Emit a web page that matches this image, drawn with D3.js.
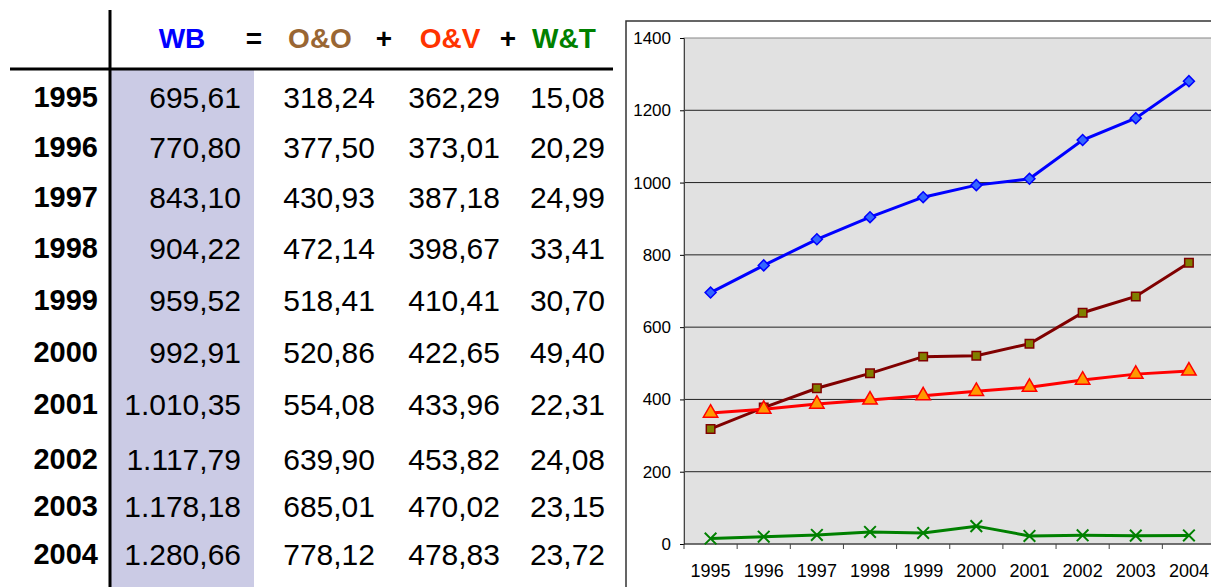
<!DOCTYPE html>
<html>
<head>
<meta charset="utf-8">
<script src="https://cdn.jsdelivr.net/npm/d3@7"></script>
<style>
  body { margin: 0; background: #fff; }
  svg { display: block; font-family: "Liberation Sans", Arial, sans-serif; }
</style>
</head>
<body>
<svg id="chart" width="1211" height="587"></svg>
<script>
const years = ["1995", "1996", "1997", "1998", "1999", "2000", "2001", "2002", "2003", "2004"];
const wb  = [695.61, 770.80, 843.10, 904.22, 959.52, 992.91, 1010.35, 1117.79, 1178.18, 1280.66];
const oo  = [318.24, 377.50, 430.93, 472.14, 518.41, 520.86, 554.08, 639.90, 685.01, 778.12];
const ov  = [362.29, 373.01, 387.18, 398.67, 410.41, 422.65, 433.96, 453.82, 470.02, 478.83];
const wt  = [15.08, 20.29, 24.99, 33.41, 30.70, 49.40, 22.31, 24.08, 23.15, 23.72];
const yTicks = [0, 200, 400, 600, 800, 1000, 1200, 1400];

const svg = d3.select("#chart");

// number format like 1.280,66
const fmt = d3.formatLocale({decimal: ",", thousands: ".", grouping: [3], currency: ["", ""]}).format(",.2f");

// ---- table on the left ----
const table = svg.append("g").attr("class", "table");
// row centers (rows are not perfectly evenly spaced in the original)
const rowY = [97, 147, 197, 248, 300, 352, 404, 459, 506, 554];

table.append("rect")
  .attr("x", 111).attr("y", 70)
  .attr("width", 143).attr("height", 517)
  .attr("fill", "#cbcbe5");

table.append("line")
  .attr("x1", 110).attr("x2", 110).attr("y1", 10).attr("y2", 587)
  .attr("stroke", "#000").attr("stroke-width", 3);
table.append("line")
  .attr("x1", 10).attr("x2", 613).attr("y1", 69).attr("y2", 69)
  .attr("stroke", "#000").attr("stroke-width", 3);

const header = [
  {t: "WB", x: 182, c: "#0000ff"},
  {t: "=", x: 254, c: "#000"},
  {t: "O&O", x: 320, c: "#996633"},
  {t: "+", x: 384, c: "#000"},
  {t: "O&V", x: 450, c: "#ff3300"},
  {t: "+", x: 508, c: "#000"},
  {t: "W&T", x: 564, c: "#008000"}
];
table.selectAll(".hdr").data(header).enter().append("text")
  .attr("class", "hdr")
  .attr("x", d => d.x).attr("y", 38)
  .attr("dy", "0.36em")
  .attr("text-anchor", "middle")
  .attr("font-size", 28).attr("font-weight", "bold")
  .attr("fill", d => d.c)
  .text(d => d.t);

table.selectAll(".yr").data(years).enter().append("text")
  .attr("class", "yr")
  .attr("x", 98).attr("y", (d, i) => rowY[i])
  .attr("dy", "0.36em")
  .attr("text-anchor", "end")
  .attr("font-size", 29).attr("font-weight", "bold")
  .text(d => d);

const cols = [{v: wb, x: 241}, {v: oo, x: 375}, {v: ov, x: 500}, {v: wt, x: 605}];
cols.forEach(col => {
  table.append("g").selectAll("text").data(col.v).enter().append("text")
    .attr("x", col.x).attr("y", (d, i) => rowY[i])
    .attr("dy", "0.36em")
    .attr("text-anchor", "end")
    .attr("font-size", 30)
    .attr("fill", "#000")
    .text(d => fmt(d));
});

// ---- line chart on the right ----
const plot = {left: 684, right: 1215.5, top: 38, bottom: 544};

svg.append("rect")
  .attr("x", 626).attr("y", 21)
  .attr("width", 600).attr("height", 600)
  .attr("fill", "#fff").attr("stroke", "#333").attr("stroke-width", 1.5);

const x = d3.scaleBand().domain(years).range([plot.left, plot.right]);
const y = d3.scaleLinear().domain([0, 1400]).range([plot.bottom, plot.top]);

svg.append("rect")
  .attr("x", plot.left).attr("y", plot.top)
  .attr("width", plot.right - plot.left).attr("height", plot.bottom - plot.top)
  .attr("fill", "#e1e1e1").attr("stroke", "#888").attr("stroke-width", 1);

// gridlines
svg.append("g").selectAll("line").data(yTicks.slice(1, -1)).enter().append("line")
  .attr("x1", plot.left).attr("x2", plot.right)
  .attr("y1", d => y(d)).attr("y2", d => y(d))
  .attr("stroke", "#222").attr("stroke-width", 1);

// y axis
const yAxis = svg.append("g")
  .attr("transform", `translate(${plot.left},0)`)
  .call(d3.axisLeft(y).tickValues(yTicks).tickSize(4).tickPadding(9).tickFormat(d3.format("d")));
yAxis.attr("font-size", 17).attr("font-family", "Liberation Sans, Arial, sans-serif");
yAxis.select(".domain").attr("stroke", "#444");
yAxis.selectAll("text").attr("fill", "#000");

// x axis: ticks between categories
const xAxis = svg.append("g").attr("transform", `translate(0,${plot.bottom})`);
xAxis.append("line")
  .attr("x1", plot.left).attr("x2", plot.right)
  .attr("stroke", "#222");
xAxis.selectAll(".tk").data(years).enter().append("line")
  .attr("x1", d => x(d)).attr("x2", d => x(d))
  .attr("y1", 0).attr("y2", 5)
  .attr("stroke", "#444");
xAxis.selectAll("text").data(years).enter().append("text")
  .attr("x", d => x(d) + x.bandwidth() / 2)
  .attr("y", 33)
  .attr("text-anchor", "middle")
  .attr("font-size", 18)
  .text(d => d);

const cx = d => x(d) + x.bandwidth() / 2;
const line = d3.line().x((d, i) => cx(years[i])).y(d => y(d));

const series = [
  {v: wb, stroke: "#0000ff", fill: "#3366ff", shape: "diamond"},
  {v: oo, stroke: "#800000", fill: "#808000", shape: "square"},
  {v: ov, stroke: "#ff0000", fill: "#ff9900", shape: "triangle"},
  {v: wt, stroke: "#008000", fill: "none", shape: "cross"}
];
const symbols = {
  diamond: d3.symbol().type(d3.symbolSquare).size(60),
  square: d3.symbol().type(d3.symbolSquare).size(72),
  triangle: d3.symbol().type(d3.symbolTriangle).size(90),
  cross: d3.symbol().type(d3.symbolX).size(90)
};

series.forEach(s => {
  const g = svg.append("g");
  g.append("path")
    .attr("d", line(s.v))
    .attr("fill", "none")
    .attr("stroke", s.stroke)
    .attr("stroke-width", 3);
  g.selectAll("path.m").data(s.v).enter().append("path")
    .attr("class", "m")
    .attr("d", symbols[s.shape]())
    .attr("transform", (d, i) => `translate(${cx(years[i])},${y(d)})` + (s.shape === "diamond" ? " rotate(45)" : ""))
    .attr("fill", s.fill)
    .attr("stroke", s.stroke)
    .attr("stroke-width", s.shape === "cross" ? 2 : 1.5);
});
</script>
</body>
</html>
